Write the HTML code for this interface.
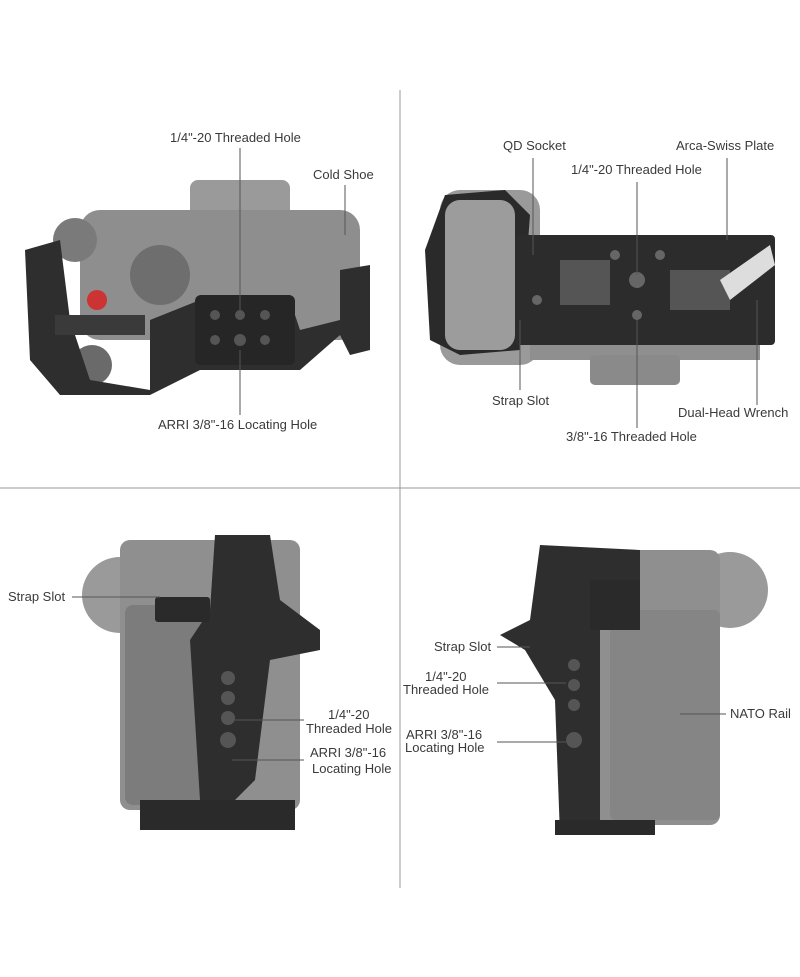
<!DOCTYPE html>
<html><head><meta charset="utf-8"><style>
body{margin:0;background:#fff;}
#c{position:relative;width:800px;height:977px;overflow:hidden;background:#fff;font-family:"Liberation Sans",sans-serif;}
.t{position:absolute;font-size:13px;color:#3a3a3a;white-space:nowrap;line-height:14px;}
svg{position:absolute;left:0;top:0;}
</style></head><body><div id="c">
<svg width="800" height="977">
<!-- dividers -->
<line x1="400" y1="90" x2="400" y2="888" stroke="#999" stroke-width="1"/>
<line x1="0" y1="488" x2="800" y2="488" stroke="#999" stroke-width="1"/>

<!-- Q1 top view -->
<rect x="190" y="180" width="100" height="40" rx="8" fill="#9a9a9a"/>
<rect x="80" y="210" width="280" height="130" rx="20" fill="#8e8e8e"/>
<circle cx="75" cy="240" r="22" fill="#7a7a7a"/>
<circle cx="160" cy="275" r="30" fill="#6e6e6e"/>
<circle cx="97" cy="300" r="10" fill="#c33"/>
<circle cx="92" cy="365" r="20" fill="#6a6a6a"/>
<path d="M25 250 L60 240 L70 320 L90 380 L150 390 L150 320 L200 300 L290 300 L300 330 L340 320 L340 270 L370 265 L370 350 L350 355 L340 335 L300 370 L200 370 L150 395 L60 395 L30 360 Z" fill="#2e2e2e"/>
<rect x="195" y="295" width="100" height="70" rx="6" fill="#262626"/>
<g fill="#555"><circle cx="215" cy="315" r="5"/><circle cx="240" cy="315" r="5"/><circle cx="265" cy="315" r="5"/><circle cx="215" cy="340" r="5"/><circle cx="240" cy="340" r="6"/><circle cx="265" cy="340" r="5"/></g>
<rect x="55" y="315" width="90" height="20" fill="#3a3a3a"/>
<line x1="240" y1="148" x2="240" y2="310" stroke="#555"/>
<line x1="345" y1="185" x2="345" y2="235" stroke="#555"/>
<line x1="240" y1="350" x2="240" y2="415" stroke="#555"/>

<!-- Q2 bottom view -->
<rect x="440" y="190" width="100" height="175" rx="20" fill="#9a9a9a"/>
<rect x="530" y="235" width="230" height="125" fill="#8f8f8f"/>
<rect x="590" y="355" width="90" height="30" rx="5" fill="#8a8a8a"/>
<path d="M425 250 L445 195 L505 190 L530 215 L520 350 L460 355 L430 340 Z" fill="#2a2a2a"/>
<rect x="445" y="200" width="70" height="150" rx="15" fill="#9c9c9c"/>
<rect x="515" y="235" width="260" height="110" rx="4" fill="#2c2c2c"/>
<rect x="560" y="260" width="50" height="45" fill="#555"/>
<rect x="670" y="270" width="60" height="40" fill="#555"/>
<g fill="#666"><circle cx="637" cy="280" r="8"/><circle cx="615" cy="255" r="5"/><circle cx="660" cy="255" r="5"/><circle cx="637" cy="315" r="5"/><circle cx="537" cy="300" r="5"/></g>
<path d="M720 280 L770 245 L775 265 L730 300 Z" fill="#ddd"/>
<line x1="533" y1="158" x2="533" y2="255" stroke="#555"/>
<line x1="727" y1="158" x2="727" y2="240" stroke="#555"/>
<line x1="637" y1="182" x2="637" y2="275" stroke="#555"/>
<line x1="520" y1="320" x2="520" y2="390" stroke="#555"/>
<line x1="757" y1="300" x2="757" y2="405" stroke="#555"/>
<line x1="637" y1="320" x2="637" y2="428" stroke="#555"/>

<!-- Q3 side view -->
<circle cx="120" cy="595" r="38" fill="#9a9a9a"/>
<rect x="120" y="540" width="180" height="270" rx="10" fill="#8f8f8f"/>
<rect x="125" y="605" width="80" height="200" rx="8" fill="#7c7c7c"/>
<path d="M215 535 L270 535 L280 600 L320 630 L320 650 L270 660 L255 780 L230 805 L200 800 L190 640 L210 610 Z" fill="#2e2e2e"/>
<rect x="140" y="800" width="155" height="30" fill="#2a2a2a"/>
<rect x="155" y="597" width="55" height="25" rx="3" fill="#2a2a2a"/>
<g fill="#555"><circle cx="228" cy="678" r="7"/><circle cx="228" cy="698" r="7"/><circle cx="228" cy="718" r="7"/><circle cx="228" cy="740" r="8"/></g>
<line x1="72" y1="597" x2="160" y2="597" stroke="#555"/>
<line x1="232" y1="720" x2="304" y2="720" stroke="#555"/>
<line x1="232" y1="760" x2="304" y2="760" stroke="#555"/>

<!-- Q4 side view -->
<circle cx="730" cy="590" r="38" fill="#9a9a9a"/>
<rect x="560" y="550" width="160" height="275" rx="10" fill="#8f8f8f"/>
<rect x="610" y="610" width="110" height="210" rx="6" fill="#858585"/>
<path d="M540 545 L640 550 L640 610 L600 615 L600 830 L560 835 L555 700 L525 650 L500 635 L530 620 Z" fill="#2e2e2e"/>
<rect x="590" y="580" width="50" height="50" fill="#2a2a2a"/>
<rect x="555" y="820" width="100" height="15" fill="#2a2a2a"/>
<g fill="#555"><circle cx="574" cy="665" r="6"/><circle cx="574" cy="685" r="6"/><circle cx="574" cy="705" r="6"/><circle cx="574" cy="740" r="8"/></g>
<line x1="497" y1="647" x2="530" y2="647" stroke="#555"/>
<line x1="497" y1="683" x2="566" y2="683" stroke="#555"/>
<line x1="497" y1="742" x2="566" y2="742" stroke="#555"/>
<line x1="680" y1="714" x2="726" y2="714" stroke="#555"/>
</svg>

<div class="t" style="left:170px;top:131px">1/4"-20 Threaded Hole</div>
<div class="t" style="left:313px;top:168px">Cold Shoe</div>
<div class="t" style="left:158px;top:418px">ARRI 3/8"-16 Locating Hole</div>

<div class="t" style="left:503px;top:139px">QD Socket</div>
<div class="t" style="left:676px;top:139px">Arca-Swiss Plate</div>
<div class="t" style="left:571px;top:163px">1/4"-20 Threaded Hole</div>
<div class="t" style="left:492px;top:394px">Strap Slot</div>
<div class="t" style="left:678px;top:406px">Dual-Head Wrench</div>
<div class="t" style="left:566px;top:430px">3/8"-16 Threaded Hole</div>

<div class="t" style="left:8px;top:590px">Strap Slot</div>
<div class="t" style="left:328px;top:708px">1/4"-20</div>
<div class="t" style="left:306px;top:722px">Threaded Hole</div>
<div class="t" style="left:310px;top:746px">ARRI 3/8"-16</div>
<div class="t" style="left:312px;top:762px">Locating Hole</div>

<div class="t" style="left:434px;top:640px">Strap Slot</div>
<div class="t" style="left:425px;top:670px">1/4"-20</div>
<div class="t" style="left:403px;top:683px">Threaded Hole</div>
<div class="t" style="left:406px;top:728px">ARRI 3/8"-16</div>
<div class="t" style="left:405px;top:741px">Locating Hole</div>
<div class="t" style="left:730px;top:707px">NATO Rail</div>
</div></body></html>
